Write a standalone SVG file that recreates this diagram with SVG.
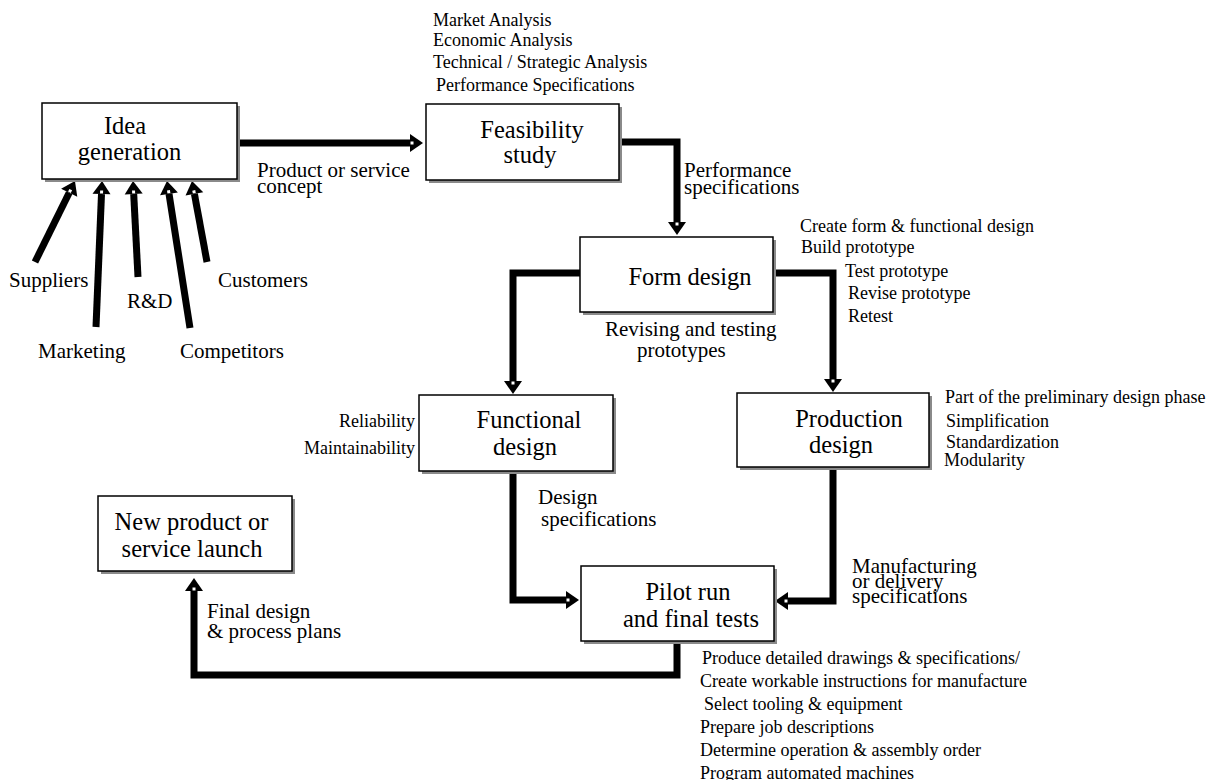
<svg xmlns="http://www.w3.org/2000/svg" width="1223" height="780" viewBox="0 0 1223 780">
<defs>
<style>
.box{fill:#fff;stroke:#000;stroke-width:1.5}
.sh{fill:#8a8a8a}
.bt{font-family:"Liberation Serif","Times New Roman",serif;font-size:24.5px;fill:#000;text-anchor:middle}
.lb{font-family:"Liberation Serif","Times New Roman",serif;font-size:21px;fill:#000}
.ls{font-family:"Liberation Serif","Times New Roman",serif;font-size:18px;fill:#000}
.cn{fill:none;stroke:#000;stroke-width:7;stroke-linejoin:miter}
</style>
<marker id="ah" markerUnits="userSpaceOnUse" viewBox="-1 -10 15 20" refX="0" refY="0" markerWidth="15" markerHeight="20" orient="auto" overflow="visible">
<path d="M0,-9 L13,0 L0,9 Z" fill="#000"/>
<rect x="0.5" y="-1.5" width="3" height="3" fill="#fff"/>
</marker>
</defs>
<rect width="1223" height="780" fill="#fff"/>

<g id="connectors">
<path class="cn" d="M237,143 H410" marker-end="url(#ah)"/>
<path class="cn" d="M619,142 H677 V222" marker-end="url(#ah)"/>
<path class="cn" d="M580,273 H513 V381" marker-end="url(#ah)"/>
<path class="cn" d="M773,273 H833 V379" marker-end="url(#ah)"/>
<path class="cn" d="M513,471 V600 H566" marker-end="url(#ah)"/>
<path class="cn" d="M833,467 V601 H788" marker-end="url(#ah)"/>
<path class="cn" d="M677,642 V675 H194 V591" marker-end="url(#ah)"/>
<path class="cn" d="M35,262 L69.2,192.7" marker-end="url(#ah)"/>
<path class="cn" d="M96,327 L101.5,194" marker-end="url(#ah)"/>
<path class="cn" d="M138,277 L133.7,194" marker-end="url(#ah)"/>
<path class="cn" d="M190,328 L169,193.8" marker-end="url(#ah)"/>
<path class="cn" d="M207,262 L194.4,193.8" marker-end="url(#ah)"/>
</g>

<g id="idea">
<rect class="sh" x="45" y="106" width="195" height="76"/>
<rect class="box" x="42" y="103" width="195" height="76"/>
<text class="bt" x="125" y="134">Idea</text>
<text class="bt" x="129.5" y="160">generation</text>
</g>

<g id="feasibility">
<rect class="sh" x="429" y="107" width="193" height="76"/>
<rect class="box" x="426" y="104" width="193" height="76"/>
<text class="bt" x="532" y="138">Feasibility</text>
<text class="bt" x="530" y="163">study</text>
</g>

<g id="form">
<rect class="sh" x="583" y="240" width="193" height="75"/>
<rect class="box" x="580" y="237" width="193" height="75"/>
<text class="bt" x="690" y="285">Form design</text>
</g>

<g id="functional">
<rect class="sh" x="422" y="398" width="194" height="76"/>
<rect class="box" x="419" y="395" width="194" height="76"/>
<text class="bt" x="529" y="428">Functional</text>
<text class="bt" x="525" y="455">design</text>
</g>

<g id="production">
<rect class="sh" x="740" y="396" width="192" height="74"/>
<rect class="box" x="737" y="393" width="192" height="74"/>
<text class="bt" x="849" y="427">Production</text>
<text class="bt" x="841" y="453">design</text>
</g>

<g id="newproduct">
<rect class="sh" x="101" y="499" width="194" height="75"/>
<rect class="box" x="98" y="496" width="194" height="75"/>
<text class="bt" x="191.5" y="530">New product or</text>
<text class="bt" x="192" y="557">service launch</text>
</g>

<g id="pilot">
<rect class="sh" x="584" y="569" width="193" height="75"/>
<rect class="box" x="581" y="566" width="193" height="75"/>
<text class="bt" x="688" y="600">Pilot run</text>
<text class="bt" x="691" y="627">and final tests</text>
</g>

<g id="labels">
<text class="lb" x="9" y="287">Suppliers</text>
<text class="lb" x="38" y="358">Marketing</text>
<text class="lb" x="127" y="308">R&amp;D</text>
<text class="lb" x="180" y="358">Competitors</text>
<text class="lb" x="218" y="287">Customers</text>
<text class="lb" x="257" y="177">Product or service</text>
<text class="lb" x="257" y="193">concept</text>
<text class="lb" x="684" y="177">Performance</text>
<text class="lb" x="684" y="194">specifications</text>
<text class="lb" x="605" y="336">Revising and testing</text>
<text class="lb" x="637" y="357">prototypes</text>
<text class="lb" x="538" y="504">Design</text>
<text class="lb" x="541" y="526">specifications</text>
<text class="lb" x="852" y="573">Manufacturing</text>
<text class="lb" x="852" y="588">or delivery</text>
<text class="lb" x="852" y="603">specifications</text>
<text class="lb" x="207" y="618">Final design</text>
<text class="lb" x="207" y="638">&amp; process plans</text>
</g>

<g id="lists">
<text class="ls" x="433" y="26">Market Analysis</text>
<text class="ls" x="433" y="46">Economic Analysis</text>
<text class="ls" x="433" y="68">Technical / Strategic Analysis</text>
<text class="ls" x="436" y="91">Performance Specifications</text>
<text class="ls" x="800" y="232">Create form &amp; functional design</text>
<text class="ls" x="801" y="253">Build prototype</text>
<text class="ls" x="845" y="277">Test prototype</text>
<text class="ls" x="848" y="299">Revise prototype</text>
<text class="ls" x="848" y="322">Retest</text>
<text class="ls" x="415" y="427" text-anchor="end">Reliability</text>
<text class="ls" x="415" y="454" text-anchor="end">Maintainability</text>
<text class="ls" x="945" y="403">Part of the preliminary design phase</text>
<text class="ls" x="946" y="427">Simplification</text>
<text class="ls" x="946" y="448">Standardization</text>
<text class="ls" x="944" y="466">Modularity</text>
<text class="ls" x="702" y="664">Produce detailed drawings &amp; specifications/</text>
<text class="ls" x="700" y="687">Create workable instructions for manufacture</text>
<text class="ls" x="704" y="710">Select tooling &amp; equipment</text>
<text class="ls" x="700" y="733">Prepare job descriptions</text>
<text class="ls" x="700" y="756">Determine operation &amp; assembly order</text>
<text class="ls" x="700" y="779">Program automated machines</text>
</g>
</svg>
